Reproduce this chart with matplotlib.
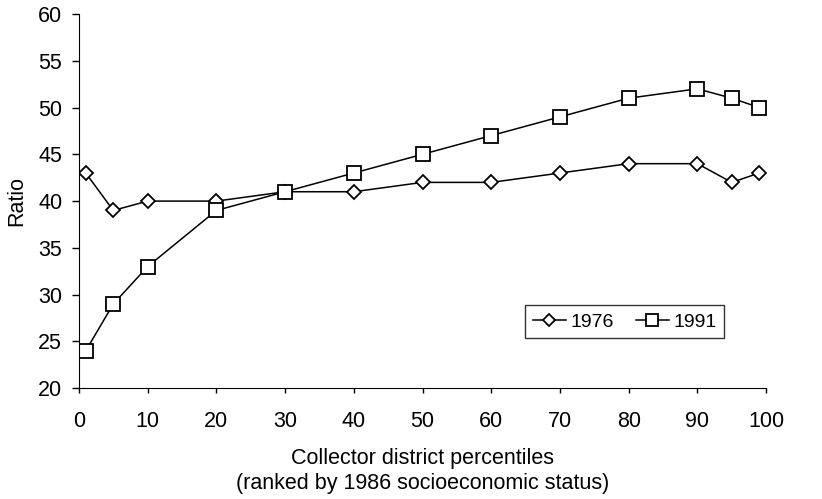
import matplotlib
matplotlib.use('Agg')
import matplotlib.pyplot as plt

plt.rcParams['font.family'] = ['Liberation Sans', 'DejaVu Sans']

# Data
percentiles = [1, 5, 10, 20, 30, 40, 50, 60, 70, 80, 90, 95, 99]
ratio_1976 = [43, 39, 40, 40, 41, 41, 42, 42, 43, 44, 44, 42, 43]
ratio_1991 = [24, 29, 33, 39, 41, 43, 45, 47, 49, 51, 52, 51, 50]

fig = plt.figure(figsize=(8.22, 4.99), dpi=100)
ax = fig.add_axes([0.096, 0.222, 0.836, 0.750])

ax.plot(percentiles, ratio_1976, color='black', linewidth=1.1, marker='D',
        markersize=7.5, markerfacecolor='white', markeredgecolor='black',
        markeredgewidth=1.3, label='1976')
ax.plot(percentiles, ratio_1991, color='black', linewidth=1.1, marker='s',
        markersize=9.5, markerfacecolor='white', markeredgecolor='black',
        markeredgewidth=1.3, label='1991')

ax.set_xlim(0, 100)
ax.set_ylim(20, 60)
ax.set_xticks(range(0, 101, 10))
ax.set_yticks(range(20, 61, 5))
ax.tick_params(axis='both', labelsize=15.5, direction='out', width=1)
ax.tick_params(axis='x', length=3.6, pad=13)
ax.tick_params(axis='y', length=5, pad=7)
ax.spines['top'].set_visible(False)
ax.spines['right'].set_visible(False)

ax.set_ylabel('Ratio', fontsize=15.5, labelpad=8)
ax.set_xlabel('Collector district percentiles\n(ranked by 1986 socioeconomic status)',
              fontsize=15.5, labelpad=11, linespacing=1.25)

leg = ax.legend(loc='upper left', bbox_to_anchor=(0.649, 0.222), borderaxespad=0,
                ncol=2, fontsize=14, frameon=True, fancybox=False, edgecolor='black',
                handlelength=1.7, columnspacing=1.15, handletextpad=0.22,
                borderpad=0.4, markerscale=0.85)
leg.get_frame().set_linewidth(1.0)

fig.savefig('out.png', dpi=100)
